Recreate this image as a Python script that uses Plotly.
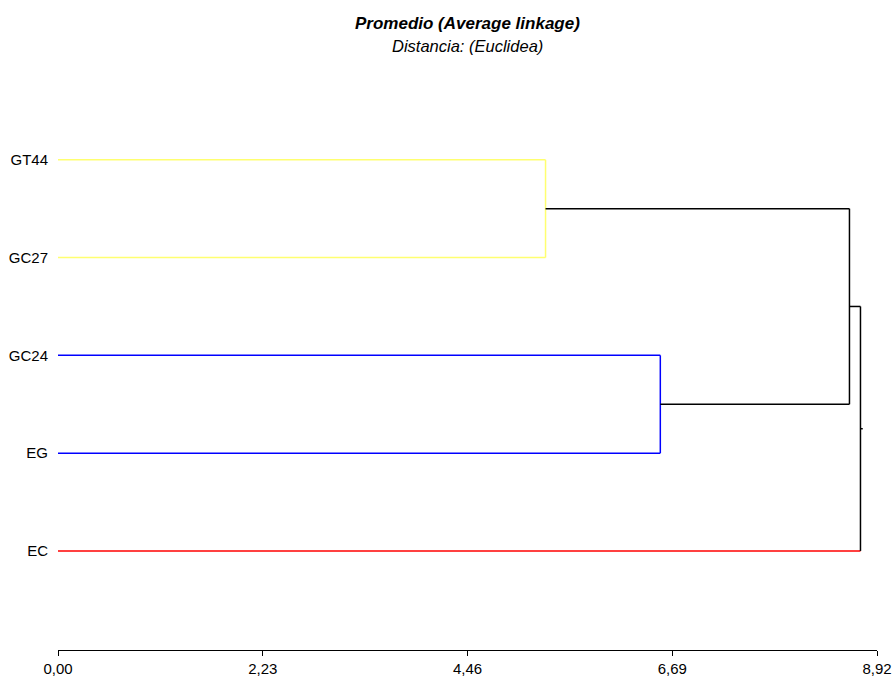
import plotly.graph_objects as go

# ---- data ----
leaves = ["GT44", "GC27", "GC24", "EG", "EC"]
leaf_pos = [4, 3, 2, 1, 0]
leaf_colors = ["#ffff70", "#ffff70", "#0000ff", "#0000ff", "#ff0000"]
# merges: (left node, right node, height, colour); nodes are leaf names or merge ids
merge_left = ["GT44", "GC24", "m0", "m2"]
merge_right = ["GC27", "EG", "m1", "EC"]
merge_height = [5.31, 6.56, 8.62, 8.74]
merge_color = ["#ffff70", "#0000ff", "#000000", "#000000"]
tick_vals = [0.00, 2.23, 4.46, 6.69, 8.92]
tick_text = ["0,00", "2,23", "4,46", "6,69", "8,92"]

FONT = "Arial, Liberation Sans, sans-serif"

# ---- build dendrogram segments ----
node_y = {n: p for n, p in zip(leaves, leaf_pos)}
node_x = {n: 0.0 for n in leaves}
node_col = {n: c for n, c in zip(leaves, leaf_colors)}

fig = go.Figure()

def seg(xs, ys, col):
    fig.add_trace(go.Scatter(x=xs, y=ys, mode="lines",
                             line=dict(color=col, width=1.5),
                             hoverinfo="skip", showlegend=False))

for i, (a, b, h, c) in enumerate(zip(merge_left, merge_right, merge_height, merge_color)):
    # branch from child to merge height: leaves keep own colour, clusters take parent's
    for ch in (a, b):
        col = node_col[ch] if ch in leaves else c
        seg([node_x[ch], h], [node_y[ch], node_y[ch]], col)
    # vertical connector
    seg([h, h], [node_y[a], node_y[b]], c)
    nid = f"m{i}"
    node_x[nid] = h
    node_y[nid] = (node_y[a] + node_y[b]) / 2
    node_col[nid] = c

# root stub
root = f"m{len(merge_height) - 1}"
seg([node_x[root], node_x[root] + 0.025], [node_y[root], node_y[root]], "#000000")

fig.update_layout(
    width=894, height=677,
    margin=dict(l=58, r=17, t=62, b=27),
    paper_bgcolor="white", plot_bgcolor="white",
    font=dict(family=FONT, size=15, color="#000000"),
    xaxis=dict(range=[0, 8.92], tickvals=tick_vals, ticktext=tick_text,
               showgrid=False, zeroline=False, showline=True, automargin=False,
               linecolor="#000000", linewidth=1.3,
               ticks="outside", ticklen=5, tickcolor="#000000", tickwidth=1,
               tickfont=dict(family=FONT, size=15, color="#000000")),
    yaxis=dict(range=[-1.013, 5.0], tickvals=leaf_pos, ticktext=leaves,
               showgrid=False, zeroline=False, showline=False, automargin=False,
               ticks="outside", ticklen=6, tickcolor="rgba(0,0,0,0)",
               tickfont=dict(family=FONT, size=15, color="#000000")),
    annotations=[
        dict(text="<b><i>Promedio (Average linkage)</i></b>", xref="paper", yref="paper",
             x=0.5, y=1.066, xanchor="center", yanchor="middle", showarrow=False,
             font=dict(family=FONT, size=17, color="#000000")),
        dict(text="<i>Distancia: (Euclidea)</i>", xref="paper", yref="paper",
             x=0.5, y=1.028, xanchor="center", yanchor="middle", showarrow=False,
             font=dict(family=FONT, size=16.5, color="#000000")),
    ],
)

fig.write_html("out.html", config={"displayModeBar": False},
               post_script="document.body.style.margin='0';document.body.style.overflow='hidden';")
